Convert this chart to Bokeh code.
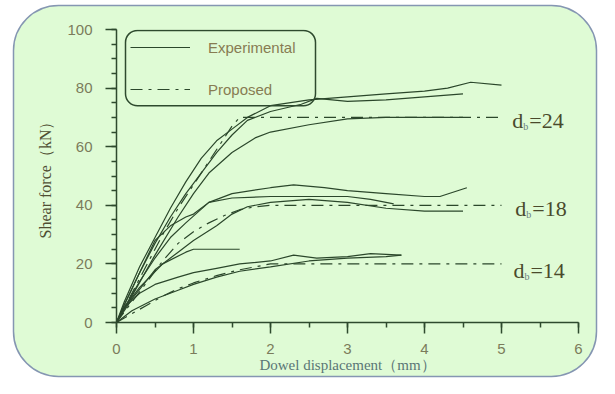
from bokeh.plotting import figure
from bokeh.models import (BoxAnnotation, Legend, LegendItem, SingleIntervalTicker, Range1d, ColumnDataSource)
from bokeh.core.properties import value
from bokeh.embed import file_html
from bokeh.resources import INLINE

# ---------------- data ----------------
exp24a_x = [0, 0.1, 0.3, 0.5, 0.7, 0.9, 1.1, 1.3, 1.5, 1.7, 2.0, 2.5, 3.0, 3.5, 4.0, 4.3, 4.6, 5.0]
exp24a_y = [0, 7, 19, 29, 39, 48, 56, 62, 66, 70, 74, 76, 77, 78, 79, 80, 82, 81]
exp24b_x = [0, 0.1, 0.3, 0.5, 0.7, 0.9, 1.1, 1.3, 1.5, 1.7, 2.0, 2.4, 2.6, 3.0, 3.5, 4.0, 4.5]
exp24b_y = [0, 6, 17, 27, 36, 44, 51, 58, 64, 69, 72, 74.5, 76.5, 75.5, 76, 77, 78]
exp24c_x = [0, 0.2, 0.5, 0.8, 1.0, 1.2, 1.5, 1.8, 2.0, 2.5, 3.0, 3.5, 4.0, 4.5]
exp24c_y = [0, 9, 23, 36, 44, 51, 58, 63, 65, 67.5, 69.5, 70, 70, 70]
prop24_x = [0, 0.2, 0.4, 0.6, 0.8, 1.0, 1.2, 1.4, 1.5, 1.6, 2.0, 3.0, 4.0, 5.0]
prop24_y = [0, 10, 20, 30, 39, 47, 55, 63, 67, 70, 70, 70, 70, 70]

exp18a_x = [0, 0.1, 0.3, 0.5, 0.7, 0.9, 1.0, 1.2, 1.5, 2.0, 2.3, 2.7, 3.0, 3.5, 4.0, 4.2, 4.55]
exp18a_y = [0, 6, 17, 28, 33, 36, 37, 41, 44, 46, 47, 46, 45, 44, 43, 43, 46]
exp18b_x = [0, 0.1, 0.3, 0.5, 0.7, 0.9, 1.2, 1.5, 2.0, 2.5, 3.0, 3.3, 3.6]
exp18b_y = [0, 5, 14, 22, 29, 34, 41, 42.5, 43, 43, 43, 42, 40.5]
exp18c_x = [0, 0.2, 0.5, 0.8, 1.0, 1.3, 1.5, 1.7, 2.0, 2.5, 3.0, 3.5, 4.0, 4.5]
exp18c_y = [0, 8, 18, 24, 28, 33, 37, 39.5, 41, 42, 41, 39, 38, 38]
prop18_x = [0, 0.2, 0.4, 0.6, 0.8, 1.0, 1.2, 1.4, 1.6, 1.8, 2.0, 3.0, 4.0, 5.0]
prop18_y = [0, 7, 14, 21, 27, 31, 34, 36.5, 38.5, 39.5, 40, 40, 40, 40]

exp25_x = [0, 0.1, 0.3, 0.6, 0.9, 1.0, 1.6]
exp25_y = [0, 5, 12, 20, 24, 25, 25]

exp14a_x = [0, 0.1, 0.3, 0.5, 0.8, 1.0, 1.3, 1.6, 2.0, 2.3, 2.6, 3.0, 3.3, 3.7]
exp14a_y = [0, 5, 10, 13, 15.5, 17, 18.5, 20, 21, 23, 22, 22.5, 23.5, 23]
exp14b_x = [0, 0.2, 0.5, 0.8, 1.0, 1.3, 1.6, 2.0, 2.5, 3.0, 3.5, 3.7]
exp14b_y = [0, 4, 8, 11, 13, 15.5, 17.5, 19, 21, 22, 22.5, 23]
prop14_x = [0, 0.2, 0.4, 0.6, 0.8, 1.0, 1.3, 1.6, 2.0, 3.0, 4.0, 5.0]
prop14_y = [0, 3, 6, 9, 11.5, 13.5, 16, 18, 20, 20, 20, 20]

db_values = ["24", "18", "14"]
db_x = [5.14, 5.18, 5.155]
db_y = [68.9, 38.9, 17.7]

# ---------------- styles ----------------
LINE = "#2b472b"
AXIS = "#2e4a2e"
TICKLBL = "#7b7b5b"
BG = "#dffbd5"
BORDER = "#8596b2"

W, H = 599, 378
p = figure(width=W, height=H, output_backend="svg", toolbar_location=None,
           x_range=Range1d(0, 6), y_range=Range1d(0, 100),
           min_border_left=116, min_border_right=21, min_border_top=29, min_border_bottom=56)
p.background_fill_color = None
p.border_fill_color = None
p.outline_line_color = None
p.grid.visible = False

# rounded panel behind the chart, drawn as a CSS background (inline SVG, no network)
panel_svg = ("<svg xmlns='http://www.w3.org/2000/svg' width='%d' height='%d'>"
             "<rect x='13.5' y='5.5' width='583' height='371' rx='45' ry='45' "
             "fill='%s' stroke='%s' stroke-width='1.5'/></svg>") % (W, H, BG, BORDER)
panel_uri = "url(\"data:image/svg+xml;utf8," + panel_svg.replace("#", "%23") + "\")"
p.styles = {"background-color": "white", "background-image": panel_uri,
            "background-repeat": "no-repeat", "background-size": "%dpx %dpx" % (W, H)}

solid = dict(line_color=LINE, line_width=1.2)
dashd = dict(line_color=LINE, line_width=1.2, line_dash="12 6 3 6")

r_exp = p.line(exp24a_x, exp24a_y, **solid)
p.line(exp24b_x, exp24b_y, **solid)
p.line(exp24c_x, exp24c_y, **solid)
r_prop = p.line(prop24_x, prop24_y, **dashd)
p.line(exp18a_x, exp18a_y, **solid)
p.line(exp18b_x, exp18b_y, **solid)
p.line(exp18c_x, exp18c_y, **solid)
p.line(prop18_x, prop18_y, **dashd)
p.line(exp25_x, exp25_y, **solid)
p.line(exp14a_x, exp14a_y, **solid)
p.line(exp14b_x, exp14b_y, **solid)
p.line(prop14_x, prop14_y, **dashd)

# d_b labels
src = ColumnDataSource(dict(x=db_x, y=db_y, d=["d"] * 3, b=["b"] * 3, v=["=" + s for s in db_values]))
serif = value("Liberation Serif")
p.text(x="x", y="y", text="d", source=src, text_font=serif, text_font_size="22px",
       text_color="#4a4a2c", text_align="left", text_baseline="middle")
p.text(x="x", y="y", text="b", source=src, text_font=serif, text_font_size="10px",
       text_color="#6a8080", text_align="left", text_baseline="middle", x_offset=11, y_offset=6)
p.text(x="x", y="y", text="v", source=src, text_font=serif, text_font_size="22px",
       text_color="#4a4a2c", text_align="left", text_baseline="middle", x_offset=17)

# axes
p.xaxis.ticker = SingleIntervalTicker(interval=1, num_minor_ticks=2)
p.yaxis.ticker = SingleIntervalTicker(interval=20, num_minor_ticks=4)
for ax in (p.xaxis[0], p.yaxis[0]):
    ax.axis_line_color = AXIS
    ax.axis_line_width = 1.5
    ax.major_tick_line_color = AXIS
    ax.minor_tick_line_color = AXIS
    ax.major_tick_line_width = 1.5
    ax.minor_tick_line_width = 1.5
    ax.major_tick_in = 0
    ax.major_tick_out = 11
    ax.minor_tick_in = 0
    ax.minor_tick_out = 5
    ax.major_label_text_font = "Liberation Sans"
    ax.major_label_text_font_size = "15px"
    ax.major_label_text_color = TICKLBL
    ax.axis_label_text_font = "Liberation Serif"
    ax.axis_label_text_font_style = "normal"
p.xaxis.major_label_standoff = 10
p.yaxis.major_label_standoff = 13
p.xaxis.axis_label = "Dowel displacement（mm）"
p.xaxis.axis_label_text_font_size = "15px"
p.xaxis.axis_label_text_color = "#5a7676"
p.xaxis.axis_label_standoff = 0
p.yaxis.axis_label = "Shear force（kN）"
p.yaxis.axis_label_text_font_size = "16px"
p.yaxis.axis_label_text_color = "#4f4f33"
p.yaxis.axis_label_standoff = 10

# legend
box = BoxAnnotation(left=9, right=199, top=99.7, bottom=74,
                    left_units="screen", right_units="screen",
                    top_units="data", bottom_units="data",
                    fill_alpha=0, line_color=AXIS, line_alpha=1, line_width=1.5, border_radius=12)
p.add_layout(box)
legend = Legend(items=[LegendItem(label="Experimental", renderers=[r_exp]),
                       LegendItem(label="Proposed", renderers=[r_prop])],
                location=(6, 215), glyph_width=60, glyph_height=20, label_height=20,
                spacing=22, padding=8, margin=0, label_standoff=18,
                border_line_alpha=0, background_fill_alpha=0,
                label_text_font="Liberation Sans", label_text_font_size="15px",
                label_text_color="#877c52")
p.add_layout(legend)

open("out.html", "w").write(file_html(p, INLINE))
